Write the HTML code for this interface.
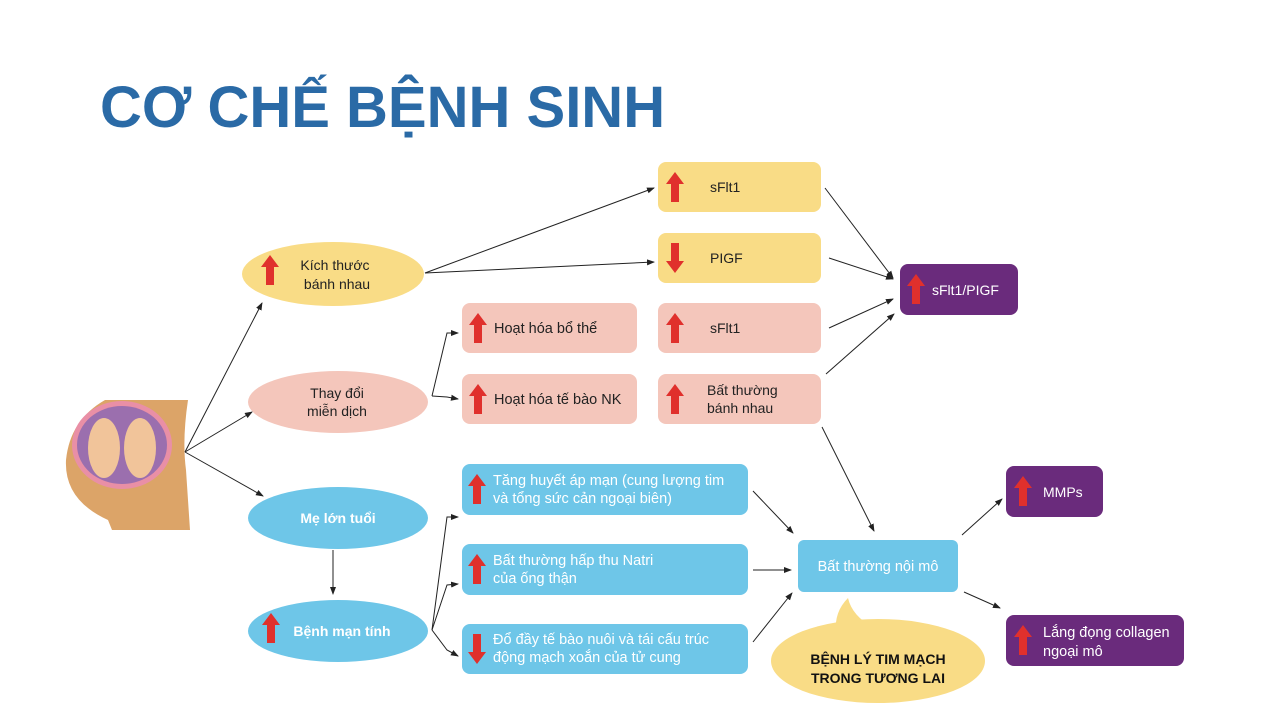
<!DOCTYPE html>
<html><head><meta charset="utf-8"><style>
html,body{margin:0;padding:0;background:#fff;}
svg{display:block;font-family:"Liberation Sans",Arial,sans-serif;}
</style></head><body>
<svg width="1280" height="720" viewBox="0 0 1280 720" xmlns="http://www.w3.org/2000/svg">
<defs>
<marker id="a" markerWidth="8" markerHeight="8" refX="7" refY="4" orient="auto" markerUnits="userSpaceOnUse"><path d="M0,1 L8,4 L0,7 z" fill="#222"/></marker>
<g id="up"><path d="M0,-15 L9,-3 L4,-3 L4,15 L-4,15 L-4,-3 L-9,-3 z" fill="#e0302c"/></g>
<g id="dn"><path d="M0,15 L9,3 L4,3 L4,-15 L-4,-15 L-4,3 L-9,3 z" fill="#e0302c"/></g>
</defs>
<text x="100" y="127" font-size="58" font-weight="bold" fill="#2a6aa6">CƠ CHẾ BỆNH SINH</text>

<!-- pregnant illustration -->
<path d="M105,400 Q70,420 66,460 Q64,500 108,520 L112,530 L190,530 L186,470 Q182,440 188,400 Z" fill="#dca468"/>
<ellipse cx="122" cy="445" rx="50" ry="44" fill="#e98fa6"/>
<ellipse cx="122" cy="445" rx="45" ry="39" fill="#9b6fae"/>
<ellipse cx="104" cy="448" rx="16" ry="30" fill="#f1c49a"/>
<ellipse cx="140" cy="448" rx="16" ry="30" fill="#f1c49a"/>

<!-- connectors -->
<g stroke="#222" stroke-width="1" fill="none" marker-end="url(#a)">
<line x1="185" y1="452" x2="262" y2="303"/>
<line x1="185" y1="452" x2="252" y2="412"/>
<line x1="185" y1="452" x2="263" y2="496"/>
<line x1="425" y1="273" x2="654" y2="188"/>
<line x1="425" y1="273" x2="654" y2="262"/>
<polyline points="432,396 447,333 458,333"/>
<polyline points="432,396 447,397 458,399"/>
<line x1="333" y1="550" x2="333" y2="594"/>
<polyline points="432,630 447,517 458,517"/>
<polyline points="432,630 447,585 458,584"/>
<polyline points="432,630 447,650 458,656"/>
<line x1="825" y1="188" x2="893" y2="278"/>
<line x1="829" y1="258" x2="893" y2="279"/>
<line x1="829" y1="328" x2="893" y2="299"/>
<line x1="826" y1="374" x2="894" y2="314"/>
<line x1="822" y1="427" x2="874" y2="531"/>
<line x1="753" y1="491" x2="793" y2="533"/>
<line x1="753" y1="570" x2="791" y2="570"/>
<line x1="753" y1="642" x2="792" y2="593"/>
<line x1="962" y1="535" x2="1002" y2="499"/>
<line x1="964" y1="592" x2="1000" y2="608"/>
</g>

<!-- ellipses -->
<ellipse cx="333" cy="274" rx="91" ry="32" fill="#f9dc86"/>
<use href="#up" x="270" y="270"/>
<text x="335" y="270" font-size="14" text-anchor="middle" fill="#222">Kích thước</text>
<text x="337" y="289" font-size="14" text-anchor="middle" fill="#222">bánh nhau</text>

<ellipse cx="338" cy="402" rx="90" ry="31" fill="#f4c6bb"/>
<text x="337" y="398" font-size="14" text-anchor="middle" fill="#222">Thay đổi</text>
<text x="337" y="416" font-size="14" text-anchor="middle" fill="#222">miễn dịch</text>

<ellipse cx="338" cy="518" rx="90" ry="31" fill="#6ec6e8"/>
<text x="338" y="523" font-size="14" text-anchor="middle" font-weight="bold" fill="#fff">Mẹ lớn tuổi</text>

<ellipse cx="338" cy="631" rx="90" ry="31" fill="#6ec6e8"/>
<use href="#up" x="271" y="628"/>
<text x="342" y="636" font-size="14" text-anchor="middle" font-weight="bold" fill="#fff">Bệnh mạn tính</text>

<!-- yellow boxes -->
<rect x="658" y="162" width="163" height="50" rx="8" fill="#f9dc86"/>
<use href="#up" x="675" y="187"/>
<text x="710" y="192" font-size="14" fill="#222">sFlt1</text>
<rect x="658" y="233" width="163" height="50" rx="8" fill="#f9dc86"/>
<use href="#dn" x="675" y="258"/>
<text x="710" y="263" font-size="14" fill="#222">PIGF</text>

<!-- pink boxes -->
<rect x="462" y="303" width="175" height="50" rx="8" fill="#f4c6bb"/>
<use href="#up" x="478" y="328"/>
<text x="494" y="333" font-size="14.5" fill="#222">Hoạt hóa bổ thể</text>
<rect x="462" y="374" width="175" height="50" rx="8" fill="#f4c6bb"/>
<use href="#up" x="478" y="399"/>
<text x="494" y="404" font-size="14.5" fill="#222">Hoạt hóa tế bào NK</text>
<rect x="658" y="303" width="163" height="50" rx="8" fill="#f4c6bb"/>
<use href="#up" x="675" y="328"/>
<text x="710" y="333" font-size="14" fill="#222">sFlt1</text>
<rect x="658" y="374" width="163" height="50" rx="8" fill="#f4c6bb"/>
<use href="#up" x="675" y="399"/>
<text x="707" y="395" font-size="14" fill="#222">Bất thường</text>
<text x="707" y="413" font-size="14" fill="#222">bánh nhau</text>

<!-- purple -->
<rect x="900" y="264" width="118" height="51" rx="8" fill="#6a2b7c"/>
<use href="#up" x="916" y="289"/>
<text x="932" y="295" font-size="14" fill="#fff">sFlt1/PIGF</text>
<rect x="1006" y="466" width="97" height="51" rx="8" fill="#6a2b7c"/>
<use href="#up" x="1023" y="491"/>
<text x="1043" y="497" font-size="14" fill="#fff">MMPs</text>
<rect x="1006" y="615" width="178" height="51" rx="8" fill="#6a2b7c"/>
<use href="#up" x="1023" y="640"/>
<text x="1043" y="637" font-size="14.5" fill="#fff">Lắng đọng collagen</text>
<text x="1043" y="656" font-size="14.5" fill="#fff">ngoại mô</text>

<!-- blue boxes -->
<rect x="462" y="464" width="286" height="51" rx="8" fill="#6ec6e8"/>
<use href="#up" x="477" y="489"/>
<text x="493" y="485" font-size="14.5" fill="#fff">Tăng huyết áp mạn (cung lượng tim</text>
<text x="493" y="503" font-size="14.5" fill="#fff">và tổng sức cản ngoại biên)</text>
<rect x="462" y="544" width="286" height="51" rx="8" fill="#6ec6e8"/>
<use href="#up" x="477" y="569"/>
<text x="493" y="565" font-size="14.5" fill="#fff">Bất thường hấp thu Natri</text>
<text x="493" y="583" font-size="14.5" fill="#fff">của ống thận</text>
<rect x="462" y="624" width="286" height="50" rx="8" fill="#6ec6e8"/>
<use href="#dn" x="477" y="649"/>
<text x="493" y="644" font-size="14.5" fill="#fff">Đổ đầy tế bào nuôi và tái cấu trúc</text>
<text x="493" y="662" font-size="14.5" fill="#fff">động mạch xoắn của tử cung</text>

<rect x="798" y="540" width="160" height="52" rx="6" fill="#6ec6e8"/>
<text x="878" y="571" font-size="14.5" text-anchor="middle" fill="#fff">Bất thường nội mô</text>

<!-- callout -->
<path d="M836,632 Q834,612 848,598 Q852,616 874,628 Z" fill="#f9dc86"/>
<ellipse cx="878" cy="661" rx="107" ry="42" fill="#f9dc86"/>
<text x="878" y="664" font-size="14" font-weight="bold" text-anchor="middle" fill="#111">BỆNH LÝ TIM MẠCH</text>
<text x="878" y="683" font-size="14" font-weight="bold" text-anchor="middle" fill="#111">TRONG TƯƠNG LAI</text>
</svg>
</body></html>
